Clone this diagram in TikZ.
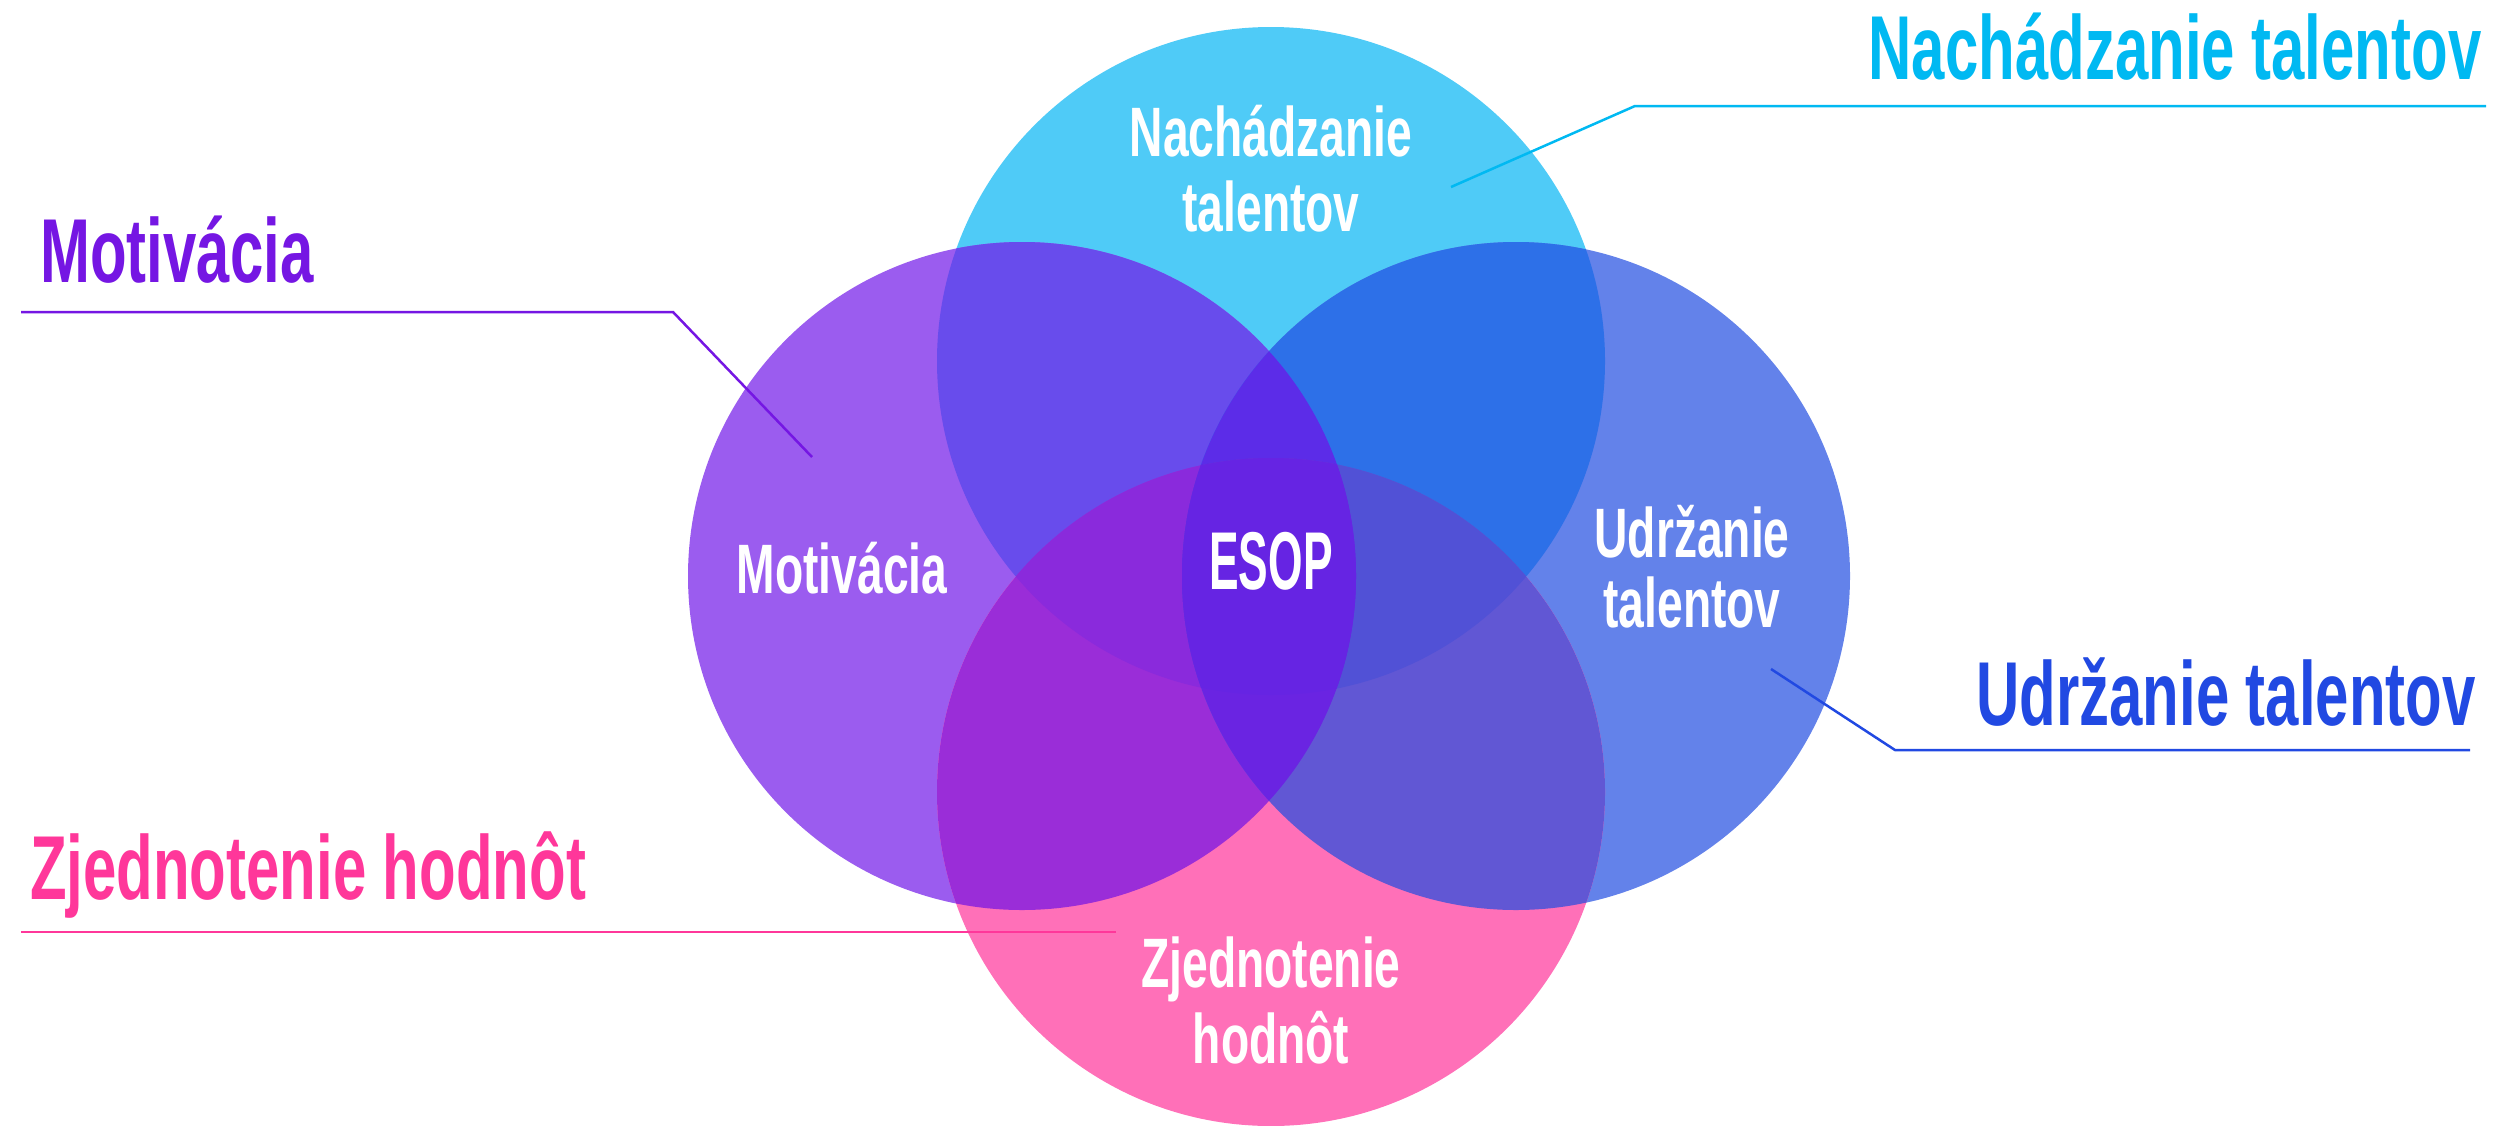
\documentclass[tikz,border=0pt]{standalone}
\usepackage{fontspec}
\newfontfamily\cond{Liberation Sans}[FakeStretch=0.66]
\definecolor{cT}{HTML}{4FCBF7}
\definecolor{cL}{HTML}{9B5CEF}
\definecolor{cR}{HTML}{6382EA}
\definecolor{cB}{HTML}{FF70B8}
\definecolor{cTL}{HTML}{684CEC}
\definecolor{cTR}{HTML}{2D70E8}
\definecolor{cLB}{HTML}{9A2DD8}
\definecolor{cRB}{HTML}{6157D4}
\definecolor{cTLR}{HTML}{5C2CE8}
\definecolor{cTLB}{HTML}{8A2ADC}
\definecolor{cTRB}{HTML}{5151D6}
\definecolor{cLRB}{HTML}{6A24E2}
\definecolor{cTLRB}{HTML}{6624E3}
\definecolor{kCyan}{HTML}{00B9F2}
\definecolor{kPurple}{HTML}{7516E3}
\definecolor{kBlue}{HTML}{2149E2}
\definecolor{kPink}{HTML}{FF379A}
\tikzset{
  biglabel/.style={inner sep=0pt, anchor=base, font=\cond\bfseries\fontsize{90.8pt}{90.8pt}\selectfont},
  inlabel/.style={inner sep=0pt, anchor=base, text=white, font=\cond\bfseries\fontsize{70pt}{70pt}\selectfont},
  leader/.style={line width=2.5pt, line cap=butt, line join=miter}
}
\begin{document}
\begin{tikzpicture}[x=1pt,y=-1pt]
\useasboundingbox (0,0) rectangle (2507,1125);
\def\cirT{(1271,361) circle[radius=334pt]}
\def\cirL{(1022,576) circle[radius=334pt]}
\def\cirR{(1516,576) circle[radius=334pt]}
\def\cirB{(1271,792) circle[radius=334pt]}
% single circles
\fill[cT] \cirT;
\fill[cL] \cirL;
\fill[cR] \cirR;
\fill[cB] \cirB;
% pairs
\begin{scope}\clip \cirT; \fill[cTL] \cirL; \end{scope}
\begin{scope}\clip \cirT; \fill[cTR] \cirR; \end{scope}
\begin{scope}\clip \cirB; \fill[cLB] \cirL; \end{scope}
\begin{scope}\clip \cirB; \fill[cRB] \cirR; \end{scope}
% triples
\begin{scope}\clip \cirT; \clip \cirL; \fill[cTLR] \cirR; \end{scope}
\begin{scope}\clip \cirT; \clip \cirL; \fill[cTLB] \cirB; \end{scope}
\begin{scope}\clip \cirT; \clip \cirR; \fill[cTRB] \cirB; \end{scope}
\begin{scope}\clip \cirL; \clip \cirR; \fill[cLRB] \cirB; \end{scope}
% all four
\begin{scope}\clip \cirT; \clip \cirL; \clip \cirR; \fill[cTLRB] \cirB; \end{scope}

% inner labels
\node[inlabel] (inT1) at (1271,156) {Nachádzanie};
\node[inlabel] (inT2) at (1271,231) {talentov};
\node[inlabel] (inL) at (842,593) {Motivácia};
\node[inlabel] (inR1) at (1692,557) {Udržanie};
\node[inlabel] (inR2) at (1692,627) {talentov};
\node[inlabel] (inB1) at (1271,987) {Zjednotenie};
\node[inlabel] (inB2) at (1271,1063) {hodnôt};
\node[inner sep=0pt, anchor=base, text=white, font=\cond\bfseries\fontsize{82pt}{82pt}\selectfont] (esop) at (1271,589) {\scalebox{0.82}[1]{ESOP}};

% outer labels
\node[biglabel, text=kCyan] (oT) at (2175,79) {Nachádzanie talentov};
\node[biglabel, text=kPurple] (oL) at (177,282) {Motivácia};
\node[biglabel, text=kBlue] (oR) at (2226,725) {Udržanie talentov};
\node[biglabel, text=kPink] (oB) at (308,899) {Zjednotenie hodnôt};

% leader lines
\coordinate (tA) at (1451,187); \coordinate (tB) at (1635,106); \coordinate (tC) at (2486,106);
\draw[leader, kCyan] (tA) -- (tB) -- (tC);
\coordinate (lA) at (812,457); \coordinate (lB) at (673,312); \coordinate (lC) at (21,312);
\draw[leader, kPurple] (lA) -- (lB) -- (lC);
\coordinate (rA) at (1771,669); \coordinate (rB) at (1895,750); \coordinate (rC) at (2470,750);
\draw[leader, kBlue] (rA) -- (rB) -- (rC);
\coordinate (bA) at (1116,932); \coordinate (bC) at (21,932);
\draw[leader, kPink] (bA) -- (bC);
\end{tikzpicture}
\end{document}
